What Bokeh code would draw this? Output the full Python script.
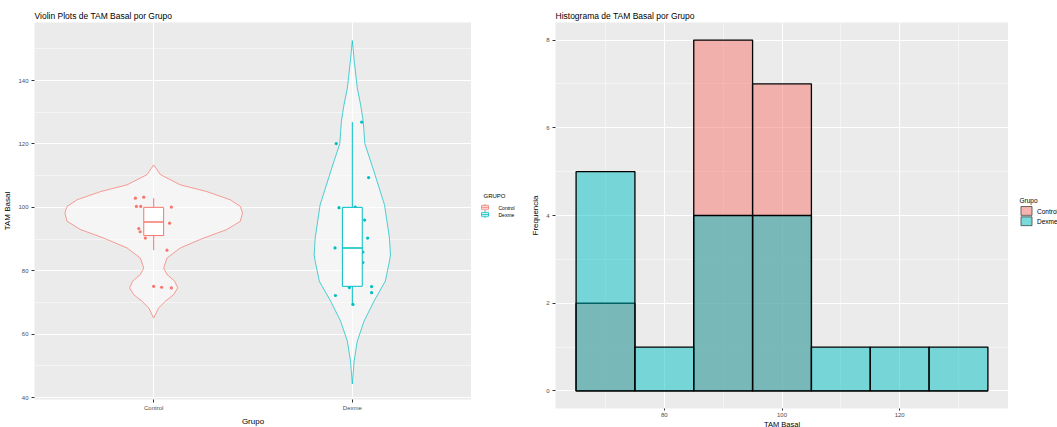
import numpy as np
from bokeh.plotting import figure
from bokeh.models import FixedTicker, ColumnDataSource, Range1d
from bokeh.core.properties import value
from bokeh.layouts import row
from bokeh.embed import file_html
from bokeh.resources import INLINE

groups = ["Control", "Dexme"]
group_colors = ["#F8766D", "#00BFC4"]

# Violin outlines: TAM Basal level and half width (in category units)
ctrl_violin_y = [65.1, 68.3, 70.4, 72.5, 74.6, 76.7, 78.8, 80.9, 84.0, 87.2, 90.3, 93.0,
                 95.6, 98.2, 100.3, 102.4, 105.0, 107.1, 110.3, 113.4]
ctrl_violin_hw = [0.0, 0.025, 0.059, 0.101, 0.121, 0.106, 0.067, 0.050, 0.067, 0.134, 0.251,
                  0.368, 0.436, 0.447, 0.436, 0.385, 0.266, 0.134, 0.034, 0.0]
dexme_violin_y = [44.3, 51.5, 57.8, 64.1, 70.4, 76.7, 83.0, 85.0, 90.3, 100.8, 111.3,
                  120.1, 127.1, 132.3, 137.6, 146.0, 152.6]
dexme_violin_hw = [0.0, 0.009, 0.025, 0.059, 0.109, 0.166, 0.187, 0.192, 0.187, 0.162, 0.109,
                   0.063, 0.055, 0.042, 0.025, 0.010, 0.0]

# Jittered observations: horizontal offset from the group centre and TAM Basal
ctrl_jitter = [-0.092, -0.050, -0.087, -0.065, 0.089, 0.080, -0.075, -0.068, -0.042, 0.067,
               0.0, 0.040, 0.089]
ctrl_tam = [102.9, 103.2, 100.3, 100.3, 100.1, 95.0, 93.3, 92.3, 90.3, 86.5, 75.1, 74.8, 74.6]
dexme_jitter = [0.047, -0.081, 0.082, -0.067, 0.015, 0.062, 0.077, -0.087, 0.053, 0.053,
                -0.015, 0.097, 0.097, -0.085, 0.003]
dexme_tam = [126.9, 120.1, 109.4, 99.9, 100.1, 96.0, 90.3, 87.2, 85.9, 82.6,
             74.7, 75.0, 73.1, 72.2, 69.4]

# Box summaries per group
box_low = [86.5, 69.4]
box_q1 = [91.1, 75.1]
box_median = [95.4, 87.2]
box_q3 = [100.0, 100.0]
box_high = [102.9, 126.9]

# Histogram bins and counts per group
bin_edges = [65, 75, 85, 95, 105, 115, 125, 135]
ctrl_counts = [2, 0, 8, 7, 0, 0, 0]
dexme_counts = [5, 1, 4, 4, 1, 1, 1]

FONT = "Liberation Sans"
PANEL_BG = "#EBEBEB"
KEY_BG = "#F2F2F2"
H = 427


def style(p):
    p.background_fill_color = PANEL_BG
    p.border_fill_color = "white"
    p.outline_line_color = None
    p.title.text_font = FONT
    p.title.text_font_size = "8.5px"
    p.title.text_font_style = "normal"
    p.title.text_color = "black"
    p.title.standoff = 3
    for ax in p.xaxis + p.yaxis:
        ax.axis_line_color = None
        ax.major_tick_line_color = "#333333"
        ax.major_tick_out = 3
        ax.major_tick_in = 0
        ax.minor_tick_line_color = None
        ax.major_label_text_font = FONT
        ax.major_label_text_font_size = "6px"
        ax.major_label_text_color = "#4D4D4D"
        ax.major_label_standoff = 2
        ax.axis_label_text_font = FONT
        ax.axis_label_text_font_size = "8px"
        ax.axis_label_text_font_style = "normal"
        ax.axis_label_text_color = "black"
        ax.axis_label_standoff = 3
    for g in p.xgrid + p.ygrid:
        g.grid_line_color = "white"
        g.grid_line_width = 1.1
        g.minor_grid_line_color = "white"
        g.minor_grid_line_width = 0.5


def legend_canvas(width):
    """Blank strip (pixel coordinates, y downwards) that holds a legend."""
    lp = figure(width=width, height=H, output_backend="svg", toolbar_location=None,
                x_range=Range1d(0, width), y_range=Range1d(H, 0),
                x_axis_location=None, y_axis_location=None,
                min_border=0, outline_line_color=None)
    lp.grid.visible = False
    lp.background_fill_color = "white"
    lp.border_fill_color = "white"
    return lp


# ---------------- Violin plot ----------------
p1 = figure(frame_width=437, frame_height=377, output_backend="svg", toolbar_location=None,
            title="Violin Plots de TAM Basal por Grupo",
            x_range=Range1d(0.4, 2.6), y_range=Range1d(39.4, 158.3),
            min_border_left=34, min_border_right=0, min_border_top=22, min_border_bottom=28,
            x_axis_label="Grupo", y_axis_label="TAM Basal")
p1.xaxis.ticker = FixedTicker(ticks=[1, 2])
p1.xaxis.major_label_overrides = {1: "Control", 2: "Dexme"}
p1.yaxis.ticker = FixedTicker(ticks=[40, 60, 80, 100, 120, 140],
                              minor_ticks=[50, 70, 90, 110, 130, 150])
p1.xgrid.ticker = FixedTicker(ticks=[1, 2])
style(p1)
p1.xgrid.minor_grid_line_color = None

violins = [(ctrl_violin_y, ctrl_violin_hw), (dexme_violin_y, dexme_violin_hw)]
jitters = [(ctrl_jitter, ctrl_tam), (dexme_jitter, dexme_tam)]
for i, (grp, col) in enumerate(zip(groups, group_colors)):
    c = i + 1
    vy, vhw = violins[i]
    vy = np.array(vy)
    vhw = np.array(vhw)
    xs = np.concatenate([c + vhw, (c - vhw)[::-1]])
    ys = np.concatenate([vy, vy[::-1]])
    p1.patch(xs, ys, fill_color="white", fill_alpha=0.5, line_color=col, line_width=0.7)

    jx, jy = jitters[i]
    p1.scatter(c + np.array(jx), jy, size=3.2, color=col, line_width=0)

    p1.segment(x0=[c, c], y0=[box_low[i], box_q3[i]], x1=[c, c], y1=[box_q1[i], box_high[i]],
               line_color=col, line_width=1)
    p1.quad(left=[c - 0.05], right=[c + 0.05], bottom=[box_q1[i]], top=[box_q3[i]],
            fill_color="white", line_color=col, line_width=1)
    p1.segment(x0=[c - 0.05], x1=[c + 0.05], y0=[box_median[i]], y1=[box_median[i]],
               line_color=col, line_width=1.5)

# legend strip for the violin plot
L1 = legend_canvas(57)
L1.text(x=[12], y=[197], text=["GRUPO"], text_font=value(FONT), text_font_size=value("6px"),
        text_baseline="middle", text_align="left", text_color="black")
for i, (grp, col) in enumerate(zip(groups, group_colors)):
    yc = 210 + 8 * i
    L1.quad(left=[9.5], right=[17.5], top=[yc - 4], bottom=[yc + 4], fill_color=KEY_BG,
            line_color=None)
    L1.segment(x0=[13.5, 13.5], y0=[yc - 4, yc + 2], x1=[13.5, 13.5], y1=[yc - 2, yc + 4],
               line_color=col, line_width=0.8)
    L1.quad(left=[10], right=[17], top=[yc - 2], bottom=[yc + 2], fill_color="white",
            fill_alpha=0.6, line_color=col, line_width=0.8)
    L1.segment(x0=[10], x1=[17], y0=[yc], y1=[yc], line_color=col, line_width=0.8)
    L1.text(x=[27], y=[yc + 0.5], text=[grp], text_font=value(FONT),
            text_font_size=value("5px"), text_baseline="middle", text_align="left",
            text_color="black")

# ---------------- Histogram ----------------
p2 = figure(frame_width=453, frame_height=386, output_backend="svg", toolbar_location=None,
            title="Histograma de TAM Basal por Grupo",
            x_range=Range1d(61.5, 138.5), y_range=Range1d(-0.4, 8.4),
            min_border_left=27, min_border_right=0, min_border_top=22, min_border_bottom=19,
            x_axis_label="TAM Basal", y_axis_label="Frequencia")
p2.xaxis.ticker = FixedTicker(ticks=[80, 100, 120], minor_ticks=[70, 90, 110, 130])
p2.yaxis.ticker = FixedTicker(ticks=[0, 2, 4, 6, 8], minor_ticks=[1, 3, 5, 7])
style(p2)
p2.xaxis.axis_label_standoff = 0
p2.xaxis.major_label_standoff = 0
p2.xaxis.major_tick_out = 2
p2.xaxis.axis_label_text_font_size = "7.5px"

lefts = bin_edges[:-1]
rights = bin_edges[1:]
for grp, col, counts in zip(groups, group_colors, [ctrl_counts, dexme_counts]):
    src = ColumnDataSource(dict(left=lefts, right=rights, top=counts, bottom=[0] * len(counts)))
    p2.quad(left="left", right="right", top="top", bottom="bottom", source=src,
            fill_color=col, fill_alpha=0.5, line_color="black", line_width=1.3)

# legend strip for the histogram
L2 = legend_canvas(49)
L2.text(x=[11], y=[202], text=["Grupo"], text_font=value(FONT), text_font_size=value("6.5px"),
        text_baseline="middle", text_align="left", text_color="black")
for i, (grp, col) in enumerate(zip(groups, group_colors)):
    yc = 214 + 11.7 * i
    L2.quad(left=[12], right=[24], top=[yc - 5.5], bottom=[yc + 5.5], fill_color=KEY_BG,
            line_color=None)
    L2.quad(left=[12.5], right=[23.5], top=[yc - 5], bottom=[yc + 5], fill_color=col,
            fill_alpha=0.5, line_color="#333333", line_width=0.7)
    L2.text(x=[28.5], y=[yc + 0.5], text=[grp], text_font=value(FONT),
            text_font_size=value("6.5px"), text_baseline="middle", text_align="left",
            text_color="black")

layout = row(p1, L1, p2, L2)
open("out.html", "w").write(file_html(layout, INLINE))
